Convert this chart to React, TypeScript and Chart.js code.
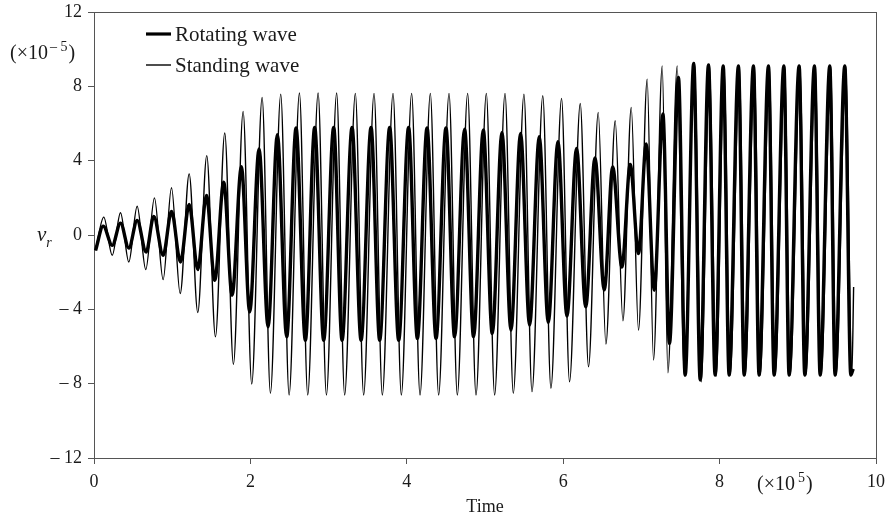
import React, { useEffect, useRef } from "react";
import { Chart, registerables } from "chart.js";

Chart.register(...registerables);

// Tick values (x in units of 10^5, y in units of 10^-5)
const xTicks = [0, 2, 4, 6, 8, 10];
const yTicks = [-12, -8, -4, 0, 4, 8, 12];

// Rotating wave: extrema (time ×10^5, v_r ×10^-5)
const rotatingTime = [0.02,
  0.118, 0.233, 0.339, 0.445, 0.552, 0.667, 0.764, 0.884, 0.991, 1.106,
  1.217, 1.327, 1.438, 1.544, 1.659, 1.766, 1.885, 1.991, 2.111, 2.226,
  2.345, 2.464, 2.584, 2.703, 2.822, 2.937, 3.065, 3.172, 3.300, 3.415,
  3.543, 3.653, 3.781, 3.896, 4.023, 4.135, 4.259, 4.374, 4.501, 4.611,
  4.739, 4.854, 4.978, 5.093, 5.217, 5.332, 5.455, 5.570, 5.694, 5.809,
  5.933, 6.048, 6.171, 6.288, 6.406, 6.525, 6.633, 6.751, 6.857, 6.963,
  7.061, 7.164, 7.275, 7.359, 7.474, 7.560, 7.669, 7.752, 7.858, 7.943,
  8.046, 8.122, 8.241, 8.314, 8.433, 8.505, 8.625, 8.697, 8.822, 8.889,
  9.017, 9.090, 9.213, 9.286, 9.409, 9.477, 9.601, 9.678,
  9.708];
const rotatingValue = [-0.83,
  0.48, -0.56, 0.64, -0.70, 0.78, -0.92, 1.00, -1.09, 1.27, -1.45,
  1.64, -1.86, 2.13, -2.44, 2.84, -3.24, 3.68, -4.14, 4.63, -4.94,
  5.40, -5.48, 5.76, -5.66, 5.79, -5.66, 5.79, -5.66, 5.79, -5.66,
  5.79, -5.66, 5.79, -5.66, 5.79, -5.57, 5.76, -5.57, 5.76, -5.48,
  5.70, -5.48, 5.65, -5.30, 5.52, -5.12, 5.47, -4.85, 5.29, -4.70,
  5.02, -4.36, 4.66, -3.87, 4.15, -2.95, 3.66, -1.72, 3.79, -1.00,
  4.90, -2.97, 6.51, -5.83, 8.48, -7.54, 9.23, -7.80, 9.15, -7.54,
  9.10, -7.54, 9.10, -7.54, 9.10, -7.54, 9.10, -7.54, 9.10, -7.54,
  9.10, -7.54, 9.10, -7.54, 9.10, -7.54, 9.10, -7.54,
  -7.2];

// Standing wave: extrema
const standingTime = [0.02,
  0.125, 0.233, 0.339, 0.445, 0.552, 0.662, 0.773, 0.884, 0.991, 1.102,
  1.217, 1.327, 1.442, 1.553, 1.672, 1.783, 1.907, 2.017, 2.150, 2.256,
  2.388, 2.495, 2.627, 2.733, 2.866, 2.972, 3.103, 3.205, 3.342, 3.448,
  3.581, 3.687, 3.824, 3.930, 4.062, 4.169, 4.301, 4.407, 4.540, 4.646,
  4.778, 4.885, 5.017, 5.123, 5.256, 5.362, 5.498, 5.601, 5.739, 5.843,
  5.979, 6.081, 6.218, 6.324, 6.448, 6.546, 6.665, 6.764, 6.870, 6.963,
  7.074, 7.155, 7.266, 7.339, 7.458, 7.547, 7.679, 7.765, 7.871, 7.956,
  8.058, 8.135, 8.254, 8.327, 8.446, 8.519, 8.637, 8.710, 8.834, 8.902,
  9.030, 9.103, 9.225, 9.298, 9.422, 9.490, 9.614, 9.691,
  9.714];
const standingValue = [-0.83,
  0.96, -1.09, 1.20, -1.45, 1.55, -1.86, 2.00, -2.40, 2.54, -3.15,
  3.29, -4.17, 4.27, -5.48, 5.49, -6.96, 6.65, -8.02, 7.40, -8.52,
  7.58, -8.61, 7.64, -8.61, 7.64, -8.61, 7.64, -8.61, 7.62, -8.61,
  7.62, -8.61, 7.62, -8.61, 7.62, -8.61, 7.62, -8.61, 7.62, -8.61,
  7.62, -8.61, 7.62, -8.61, 7.62, -8.52, 7.58, -8.43, 7.49, -8.25,
  7.35, -7.90, 7.08, -7.09, 6.60, -5.87, 6.15, -4.62, 6.87, -5.12,
  8.39, -6.73, 9.10, -7.41, 9.10, -7.54, 9.28, -7.90, 9.19, -7.60,
  9.10, -7.54, 9.10, -7.54, 9.10, -7.54, 9.10, -7.54, 9.10, -7.54,
  9.10, -7.54, 9.10, -7.54, 9.10, -7.54, 9.10, -7.54,
  -2.8];

const seriesLabels = ["Rotating wave", "Standing wave"];

const SERIF = "'Liberation Serif', 'Times New Roman', serif";
const AXIS = "#555";
const TEXT = "#1a1a1a";

function toPoints(t: number[], v: number[]) {
  const n = Math.min(t.length, v.length);
  const out: { x: number; y: number }[] = [];
  for (let i = 0; i < n; i++) out.push({ x: t[i], y: v[i] });
  return out;
}

type Part = { text: string; size: number; dy?: number; italic?: boolean; gap?: number };
function drawParts(ctx: CanvasRenderingContext2D, x: number, y: number, parts: Part[]) {
  let cx = x;
  for (const p of parts) {
    cx += p.gap || 0;
    ctx.font = `${p.italic ? "italic " : ""}${p.size}px ${SERIF}`;
    ctx.fillText(p.text, cx, y + (p.dy || 0));
    cx += ctx.measureText(p.text).width;
  }
}

const decorPlugin = {
  id: "decor",
  beforeDatasetsDraw(chart: any) {
    const { ctx, chartArea: a } = chart;
    ctx.save();
    ctx.strokeStyle = AXIS;
    ctx.lineWidth = 1;
    ctx.strokeRect(a.left + 0.5, a.top + 0.5, a.right - a.left, a.bottom - a.top);
    ctx.restore();
  },
  afterDraw(chart: any) {
    const { ctx, chartArea: a } = chart;
    ctx.save();
    ctx.fillStyle = TEXT;
    ctx.strokeStyle = "#000";
    ctx.textBaseline = "alphabetic";
    ctx.textAlign = "left";

    // Legend
    const lx0 = 146, lx1 = 171;
    ctx.lineWidth = 3.2;
    ctx.beginPath();
    ctx.moveTo(lx0, 34);
    ctx.lineTo(lx1, 34);
    ctx.stroke();
    ctx.lineWidth = 1.4;
    ctx.beginPath();
    ctx.moveTo(lx0, 65);
    ctx.lineTo(lx1, 65);
    ctx.stroke();
    ctx.font = `21px ${SERIF}`;
    ctx.fillText(seriesLabels[0], 175, 41);
    ctx.fillText(seriesLabels[1], 175, 72);

    // y multiplier
    drawParts(ctx, 10, 59, [
      { text: "(×10", size: 20 },
      { text: "– 5", size: 14, dy: -8, gap: 2 },
      { text: ")", size: 20, gap: 1 },
    ]);

    // y-axis label v_r
    drawParts(ctx, 37, 241, [
      { text: "v", size: 21, italic: true },
      { text: "r", size: 14, dy: 6, italic: true },
    ]);

    // x multiplier
    drawParts(ctx, 757, 490, [
      { text: "(×10", size: 20 },
      { text: "5", size: 14, dy: -8, gap: 3 },
      { text: ")", size: 20, gap: 1 },
    ]);

    // x-axis title
    ctx.font = `18px ${SERIF}`;
    ctx.textAlign = "center";
    ctx.fillText("Time", (a.left + a.right) / 2, 512);
    ctx.restore();
  },
};

export default function App() {
  const ref = useRef<HTMLCanvasElement>(null);

  useEffect(() => {
    document.body.style.margin = "0";
    const canvas = ref.current;
    if (!canvas) return;
    const tickFont = { family: SERIF, size: 18 };
    const chart = new Chart(canvas, {
      type: "line",
      data: {
        datasets: [
          {
            label: seriesLabels[0],
            data: toPoints(rotatingTime, rotatingValue),
            borderColor: "#000",
            borderWidth: 3.4,
            pointRadius: 0,
            fill: false,
            cubicInterpolationMode: "monotone",
          },
          {
            label: seriesLabels[1],
            data: toPoints(standingTime, standingValue),
            borderColor: "#000",
            borderWidth: 1.4,
            pointRadius: 0,
            fill: false,
            cubicInterpolationMode: "monotone",
          },
        ],
      },
      options: {
        responsive: false,
        animation: false,
        events: [],
        layout: { padding: { top: 12, right: 13, left: 0, bottom: 0 } },
        plugins: { legend: { display: false }, tooltip: { enabled: false } },
        scales: {
          x: {
            type: "linear",
            min: 0,
            max: 10,
            afterBuildTicks: (s: any) => {
              s.ticks = xTicks.map((v) => ({ value: v }));
            },
            afterFit: (s: any) => {
              s.height = 61;
              s.paddingLeft = 0;
              s.paddingRight = 0;
            },
            grid: { drawOnChartArea: false, drawTicks: true, tickLength: 6, color: AXIS, lineWidth: 1 },
            border: { display: false },
            ticks: {
              font: tickFont,
              color: TEXT,
              padding: 7,
              maxRotation: 0,
              autoSkip: false,
              callback: (v: any) => String(v),
            },
          },
          y: {
            type: "linear",
            min: -12,
            max: 12,
            afterBuildTicks: (s: any) => {
              s.ticks = yTicks.map((v) => ({ value: v }));
            },
            afterFit: (s: any) => {
              s.width = 94;
              s.paddingTop = 0;
              s.paddingBottom = 0;
            },
            grid: { drawOnChartArea: false, drawTicks: true, tickLength: 6, color: AXIS, lineWidth: 1 },
            border: { display: false },
            ticks: {
              font: tickFont,
              color: TEXT,
              padding: 6,
              autoSkip: false,
              callback: (v: any) => (v < 0 ? "– " + Math.abs(v) : String(v)),
            },
          },
        },
      } as any,
      plugins: [decorPlugin],
    } as any);
    return () => chart.destroy();
  }, []);

  return <canvas ref={ref} width={889} height={519} style={{ display: "block" }} />;
}
